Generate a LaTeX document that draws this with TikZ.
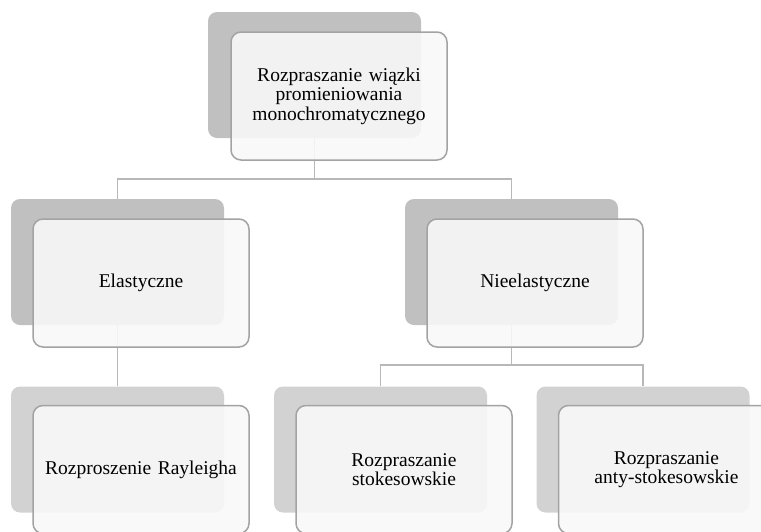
\documentclass[tikz,border=0pt]{standalone}
\usepackage{fontspec}
\setmainfont{Liberation Serif}
\definecolor{backgrey}{HTML}{C0C0C0}
\definecolor{backlight}{HTML}{D2D2D2}
\definecolor{frontfill}{HTML}{F8F8F8}
\definecolor{frontline}{HTML}{A3A3A3}
\definecolor{linkgrey}{HTML}{B8B8B8}
\begin{document}
\begin{tikzpicture}[x=1pt,y=-1pt,
    back/.style={fill=backgrey, rounded corners=9pt, minimum width=213pt,
      minimum height=126pt, inner sep=0pt},
    front/.style={draw=frontline, line width=1.5pt, fill=frontfill,
      fill opacity=0.9, text opacity=1, rounded corners=10pt,
      minimum width=216pt, minimum height=128pt, inner sep=0pt,
      text width=200pt, align=center,
      font=\fontsize{19.5}{19.5}\selectfont},
    link/.style={draw=linkgrey, line width=1.8pt}]
  \clip (0,0) rectangle (761,531);
  % shadows
  \node[back] (rootsh) at (314.5,75) {};
  \node[back] (elastsh) at (117.5,262) {};
  \node[back] (inelsh) at (511.5,262) {};
  \node[back, fill=backlight] (rayleighsh) at (117.5,449.5) {};
  \node[back, fill=backlight] (stokessh) at (380.5,449.5) {};
  \node[back, fill=backlight] (antish) at (643,449.5) {};
  % connectors
  \draw[link] (rootsh.south) -- ++(0,41) -| (elastsh.north);
  \draw[link] (rootsh.south) -- ++(0,41) -| (inelsh.north);
  \draw[link] (elastsh.south) -- (rayleighsh.north);
  \draw[link] (inelsh.south) -- ++(0,40) -| (stokessh.north);
  \draw[link] (inelsh.south) -- ++(0,40) -| (antish.north);
  % boxes
  \node[front] (root) at ([shift={(24.5,21)}]rootsh.center)
    {Rozpraszanie wiązki\\promieniowania\\monochromatycznego};
  \node[front] (elast) at ([shift={(23.5,21)}]elastsh.center) {Elastyczne};
  \node[front] (inel) at ([shift={(23.5,21)}]inelsh.center) {Nieelastyczne};
  \node[front] (rayleigh) at ([shift={(23.5,20)}]rayleighsh.center)
    {Rozproszenie Rayleigha};
  \node[front] (stokes) at ([shift={(23.5,20)}]stokessh.center)
    {Rozpraszanie\\stokesowskie};
  \node[front] (anti) at ([shift={(23.5,20)}]antish.center)
    {Rozpraszanie\\anty-stokesowskie};
\end{tikzpicture}
\end{document}
